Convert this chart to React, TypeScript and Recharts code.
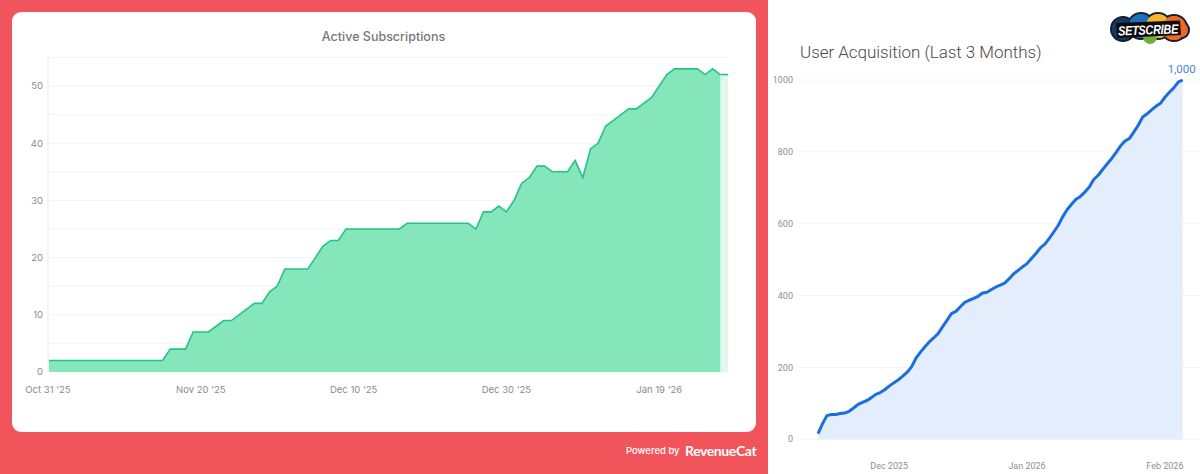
import { AreaChart, Area, XAxis, YAxis, CartesianGrid } from "recharts";

// Active Subscriptions, one value per day from Oct 31 '25
const activeSubs = [
  2, 2, 2, 2, 2, 2, 2, 2, 2, 2, 2, 2, 2, 2, 2, 2, 4, 4, 4, 7,
  7, 7, 8, 9, 9, 10, 11, 12, 12, 14, 15, 18, 18, 18, 18, 20, 22, 23, 23, 25,
  25, 25, 25, 25, 25, 25, 25, 26, 26, 26, 26, 26, 26, 26, 26, 26, 25, 28, 28, 29,
  28, 30, 33, 34, 36, 36, 35, 35, 35, 37, 34, 39, 40, 43, 44, 45, 46, 46, 47, 48,
  50, 52, 53, 53, 53, 53, 52, 53, 52, 52,
];
const subsTickDays = [0, 20, 40, 60, 80];
const subsTickLabels = ["Oct 31 '25", "Nov 20 '25", "Dec 10 '25", "Dec 30 '25", "Jan 19 '26"];
const subsYTicks = [0, 10, 20, 30, 40, 50];
const subsGridValues = [0, 5, 10, 15, 20, 25, 30, 35, 40, 45, 50, 55];
const lastSettledDay = 88; // the final day is still incomplete, drawn paler

// User Acquisition, cumulative per day from mid Nov 2025
const acquisitions = [
  16, 43, 66, 69, 69, 72, 73, 78, 87, 97, 103, 108, 116, 125, 130, 138, 148, 157, 165, 175,
  186, 201, 225, 242, 257, 271, 282, 294, 313, 331, 350, 356, 369, 381, 387, 392, 398, 407, 409, 417,
  424, 429, 435, 447, 461, 470, 480, 489, 503, 517, 533, 543, 559, 577, 595, 619, 639, 654, 668, 676,
  688, 702, 723, 735, 751, 766, 781, 798, 816, 830, 837, 855, 874, 897, 906, 917, 927, 935, 952, 966,
  978, 994, 1000,
];
const monthTickDays = [16, 47, 78];
const monthTickLabels = ["Dec 2025", "Jan 2026", "Feb 2026"];
const acquisitionYTicks = [0, 200, 400, 600, 800, 1000];

const subsData = activeSubs.map((v, day) => ({
  day,
  settled: day <= lastSettledDay ? v : null,
  partial: day >= lastSettledDay ? v : null,
}));
const acquisitionData = acquisitions.map((users, day) => ({ day, users }));

const RED = "#F2545B";
const LEFT_FONT = "Inter, sans-serif";
const RIGHT_FONT = "Roboto, sans-serif";

function SubscriptionsChart() {
  const tick = { fill: "#8b8b8b", fontSize: 9.5, fontFamily: LEFT_FONT };
  return (
    <AreaChart
      width={756}
      height={432}
      data={subsData}
      margin={{ top: 57.4, right: 28, left: 0, bottom: 0 }}
    >
      <CartesianGrid vertical={false} horizontalValues={subsGridValues} stroke="#f2f3f5" />
      <XAxis
        dataKey="day"
        type="number"
        domain={[0, 89]}
        ticks={subsTickDays}
        interval={0}
        height={60}
        axisLine={false}
        tickLine={false}
        tickSize={0}
        tickMargin={14}
        tick={tick}
        tickFormatter={(d: number) => subsTickLabels[subsTickDays.indexOf(d)]}
      />
      <YAxis
        domain={[0, 55]}
        ticks={subsYTicks}
        interval={0}
        width={48}
        axisLine={{ stroke: "#f2f3f5", strokeWidth: 2 }}
        tickLine={false}
        tickSize={0}
        tickMargin={5}
        tick={tick}
      />
      <Area
        dataKey="partial"
        type="linear"
        stroke="#22c587"
        strokeWidth={1.6}
        fill="#e0f7ec"
        fillOpacity={1}
        dot={false}
        activeDot={false}
        isAnimationActive={false}
      />
      <Area
        dataKey="settled"
        type="linear"
        stroke="#22c587"
        strokeWidth={1.6}
        fill="#85e6bb"
        fillOpacity={1}
        dot={false}
        activeDot={false}
        isAnimationActive={false}
      />
    </AreaChart>
  );
}

function LastValueLabel(props: any) {
  if (props.index !== acquisitions.length - 1) return null;
  return (
    <text
      x={props.x - 1}
      y={props.y - 7}
      textAnchor="middle"
      fill="#4a86d8"
      fontSize={11.5}
      fontFamily={RIGHT_FONT}
    >
      {props.value.toLocaleString("en-US")}
    </text>
  );
}

function AcquisitionChart() {
  const tick = { fill: "#8f8f8f", fontSize: 9, fontFamily: RIGHT_FONT };
  return (
    <AreaChart
      width={432}
      height={474}
      data={acquisitionData}
      margin={{ top: 80, right: 0, left: 0, bottom: 0 }}
    >
      <CartesianGrid vertical={false} stroke="#f4f4f4" />
      <XAxis
        dataKey="day"
        type="number"
        domain={[0, 82]}
        padding={{ left: 19, right: 17.3 }}
        ticks={monthTickDays}
        interval={0}
        height={34.7}
        axisLine={false}
        tickLine={false}
        tickSize={0}
        tickMargin={23}
        tick={tick}
        tickFormatter={(d: number) => monthTickLabels[monthTickDays.indexOf(d)]}
      />
      <YAxis
        domain={[0, 1000]}
        ticks={acquisitionYTicks}
        interval={0}
        width={31}
        axisLine={false}
        tickLine={false}
        tickSize={0}
        tickMargin={6}
        tick={tick}
      />
      <Area
        dataKey="users"
        type="linear"
        stroke="#1a6fdc"
        strokeWidth={3}
        strokeLinejoin="round"
        fill="#e4edfb"
        fillOpacity={1}
        dot={false}
        activeDot={false}
        label={LastValueLabel}
        isAnimationActive={false}
      />
    </AreaChart>
  );
}

function SetscribeLogo() {
  const outline = { stroke: "#0e2036", strokeWidth: 2 };
  return (
    <svg
      width={92}
      height={38}
      viewBox="0 0 92 38"
      style={{ position: "absolute", left: 1108, top: 10 }}
    >
      <ellipse cx={15} cy={19} rx={12} ry={12} fill="#123a66" {...outline} />
      <circle cx={33} cy={16} r={13} fill="#1f6fb8" {...outline} />
      <circle cx={50} cy={16} r={13} fill="#f8b428" {...outline} />
      <circle cx={66} cy={18} r={13} fill="#f26522" {...outline} />
      <ellipse cx={74} cy={20} rx={7} ry={8} fill="#f26522" {...outline} />
      <circle cx={15} cy={19} r={11} fill="#123a66" />
      <circle cx={33} cy={16} r={12} fill="#1f6fb8" />
      <circle cx={50} cy={16} r={12} fill="#f8b428" />
      <circle cx={66} cy={18} r={12} fill="#f26522" />
      <circle cx={42} cy={27} r={7} fill="#6fae3c" />
      <path d="M8 13 L72 10.5 L73 25 L9 28 Z" fill="#0c0c0c" />
      <text
        x={10}
        y={24.5}
        fontFamily="'Liberation Sans', sans-serif"
        fontWeight={700}
        fontStyle="italic"
        fontSize={11}
        letterSpacing={-0.3}
        fill="#fff"
        transform="rotate(-2 40 20) translate(10 24.5) scale(1 1.2) translate(-10 -24.5)"
      >
        SETSCRIBE
      </text>
    </svg>
  );
}

export default function App() {
  return (
    <div style={{ position: "fixed", left: 0, top: 0, width: 1200, height: 474, background: "#fff", overflow: "hidden" }}>
      <div style={{ position: "absolute", left: 0, top: 0, width: 768, height: 474, background: RED }} />
      <div style={{ position: "absolute", left: 12, top: 12, width: 744, height: 420, background: "#fff", borderRadius: 9 }} />

      <div style={{ position: "absolute", left: 0, top: 0 }}>
        <SubscriptionsChart />
      </div>
      <div
        style={{
          position: "absolute",
          left: 283.5,
          width: 200,
          top: 29,
          textAlign: "center",
          fontFamily: LEFT_FONT,
          fontSize: 12.5,
          lineHeight: "16px",
          fontWeight: 500,
          color: "#777",
        }}
      >
        Active Subscriptions
      </div>

      <div
        style={{
          position: "absolute",
          left: 626,
          top: 445,
          fontFamily: LEFT_FONT,
          fontSize: 9.5,
          lineHeight: "12px",
          fontWeight: 500,
          color: "#fff",
          whiteSpace: "nowrap",
        }}
      >
        Powered by
      </div>
      <div
        style={{
          position: "absolute",
          left: 685,
          top: 442,
          fontFamily: "Lato, sans-serif",
          fontSize: 14,
          letterSpacing: -0.4,
          lineHeight: "18px",
          fontWeight: 700,
          color: "#fff",
          whiteSpace: "nowrap",
        }}
      >
        RevenueCat
      </div>

      <div style={{ position: "absolute", left: 768, top: 0 }}>
        <AcquisitionChart />
      </div>
      <div
        style={{
          position: "absolute",
          left: 800,
          top: 41,
          fontFamily: RIGHT_FONT,
          fontSize: 17,
          fontWeight: 300,
          letterSpacing: -0.05,
          lineHeight: "22px",
          color: "#4a4a4a",
          whiteSpace: "nowrap",
        }}
      >
        User Acquisition (Last 3 Months)
      </div>
      <SetscribeLogo />
    </div>
  );
}
